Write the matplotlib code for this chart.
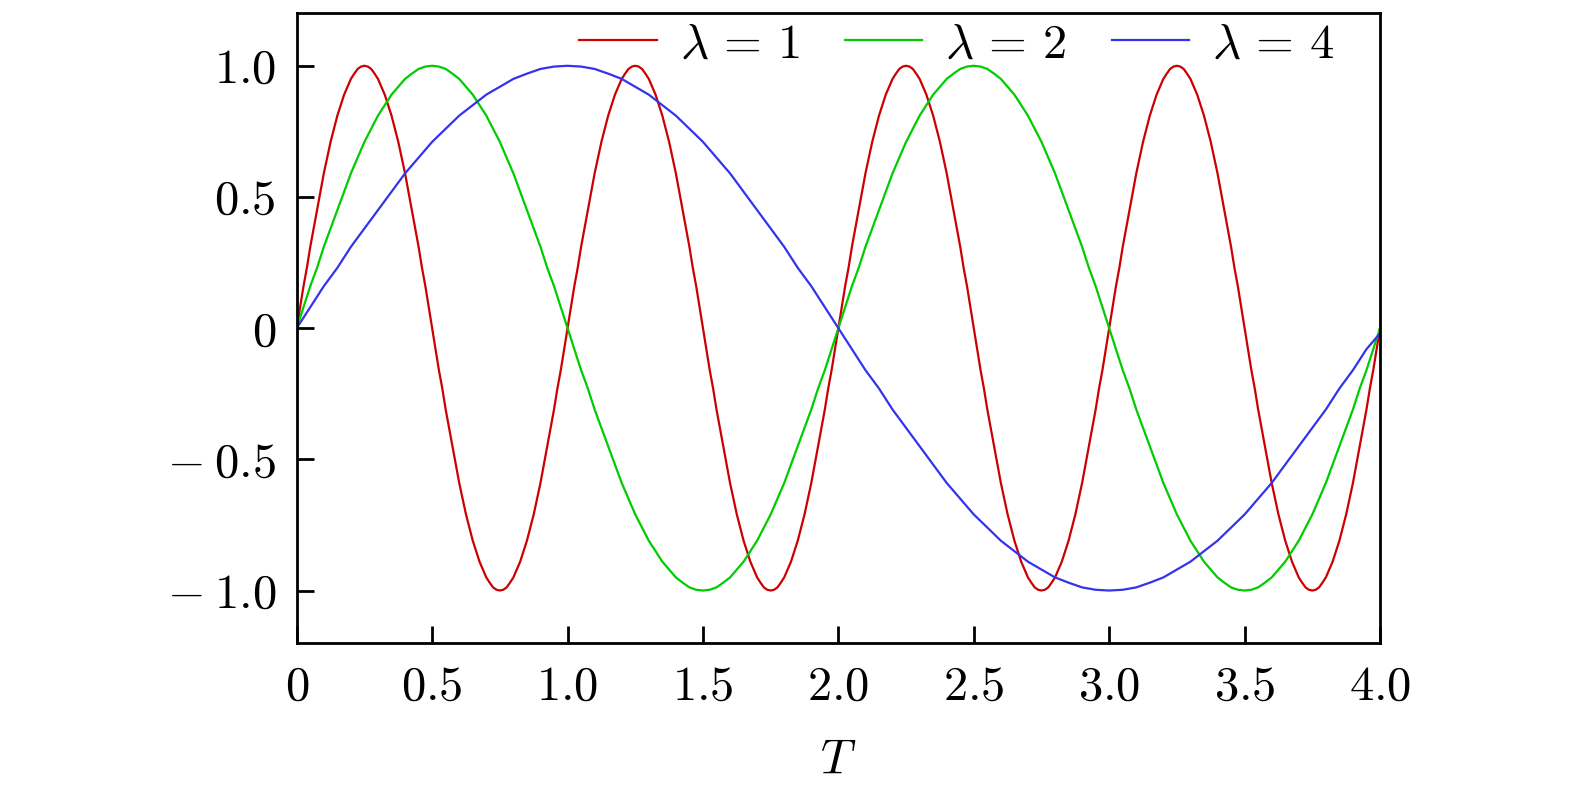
import numpy as np
import matplotlib
matplotlib.use("Agg")
import matplotlib.pyplot as plt

plt.rcParams['mathtext.fontset'] = 'cm'
plt.rcParams['font.family'] = 'serif'
plt.rcParams['font.serif'] = ['cmr10', 'DejaVu Serif']

lam1 = [
    0.00, 0.08, 0.16, 0.23, 0.31, 0.38, 0.45, 0.52, 0.59, 0.65, 0.71, 0.76, 0.81, 0.85, 0.89, 0.92, 0.95, 0.97, 0.988, 0.997, 1.00, 0.997, 0.988, 0.97, 0.95, 0.92, 0.89, 0.85, 0.81, 0.76, 0.71, 0.65, 0.59, 0.52, 0.45, 0.38, 0.31, 0.23, 0.16, 0.08,
    0.00, -0.08, -0.16, -0.23, -0.31, -0.38, -0.45, -0.52, -0.59, -0.65, -0.71, -0.76, -0.81, -0.85, -0.89, -0.92, -0.95, -0.97, -0.988, -0.997, -1.00, -0.997, -0.988, -0.97, -0.95, -0.92, -0.89, -0.85, -0.81, -0.76, -0.71, -0.65, -0.59, -0.52, -0.45, -0.38, -0.31, -0.23, -0.16, -0.08,
    0.00, 0.08, 0.16, 0.23, 0.31, 0.38, 0.45, 0.52, 0.59, 0.65, 0.71, 0.76, 0.81, 0.85, 0.89, 0.92, 0.95, 0.97, 0.988, 0.997, 1.00, 0.997, 0.988, 0.97, 0.95, 0.92, 0.89, 0.85, 0.81, 0.76, 0.71, 0.65, 0.59, 0.52, 0.45, 0.38, 0.31, 0.23, 0.16, 0.08,
    0.00, -0.08, -0.16, -0.23, -0.31, -0.38, -0.45, -0.52, -0.59, -0.65, -0.71, -0.76, -0.81, -0.85, -0.89, -0.92, -0.95, -0.97, -0.988, -0.997, -1.00, -0.997, -0.988, -0.97, -0.95, -0.92, -0.89, -0.85, -0.81, -0.76, -0.71, -0.65, -0.59, -0.52, -0.45, -0.38, -0.31, -0.23, -0.16, -0.08,
    0.00, 0.08, 0.16, 0.23, 0.31, 0.38, 0.45, 0.52, 0.59, 0.65, 0.71, 0.76, 0.81, 0.85, 0.89, 0.92, 0.95, 0.97, 0.988, 0.997, 1.00, 0.997, 0.988, 0.97, 0.95, 0.92, 0.89, 0.85, 0.81, 0.76, 0.71, 0.65, 0.59, 0.52, 0.45, 0.38, 0.31, 0.23, 0.16, 0.08,
    0.00, -0.08, -0.16, -0.23, -0.31, -0.38, -0.45, -0.52, -0.59, -0.65, -0.71, -0.76, -0.81, -0.85, -0.89, -0.92, -0.95, -0.97, -0.988, -0.997, -1.00, -0.997, -0.988, -0.97, -0.95, -0.92, -0.89, -0.85, -0.81, -0.76, -0.71, -0.65, -0.59, -0.52, -0.45, -0.38, -0.31, -0.23, -0.16, -0.08,
    0.00, 0.08, 0.16, 0.23, 0.31, 0.38, 0.45, 0.52, 0.59, 0.65, 0.71, 0.76, 0.81, 0.85, 0.89, 0.92, 0.95, 0.97, 0.988, 0.997, 1.00, 0.997, 0.988, 0.97, 0.95, 0.92, 0.89, 0.85, 0.81, 0.76, 0.71, 0.65, 0.59, 0.52, 0.45, 0.38, 0.31, 0.23, 0.16, 0.08,
    0.00, -0.08, -0.16, -0.23, -0.31, -0.38, -0.45, -0.52, -0.59, -0.65, -0.71, -0.76, -0.81, -0.85, -0.89, -0.92, -0.95, -0.97, -0.988, -0.997, -1.00, -0.997, -0.988, -0.97, -0.95, -0.92, -0.89, -0.85, -0.81, -0.76, -0.71, -0.65, -0.59, -0.52, -0.45, -0.38, -0.31, -0.23, -0.16, -0.08,
    0.00,
]
lam2 = [
    0.00, 0.08, 0.16, 0.23, 0.31, 0.38, 0.45, 0.52, 0.59, 0.65, 0.71, 0.76, 0.81, 0.85, 0.89, 0.92, 0.95, 0.97, 0.988, 0.997, 1.00, 0.997, 0.988, 0.97, 0.95, 0.92, 0.89, 0.85, 0.81, 0.76, 0.71, 0.65, 0.59, 0.52, 0.45, 0.38, 0.31, 0.23, 0.16, 0.08,
    0.00, -0.08, -0.16, -0.23, -0.31, -0.38, -0.45, -0.52, -0.59, -0.65, -0.71, -0.76, -0.81, -0.85, -0.89, -0.92, -0.95, -0.97, -0.988, -0.997, -1.00, -0.997, -0.988, -0.97, -0.95, -0.92, -0.89, -0.85, -0.81, -0.76, -0.71, -0.65, -0.59, -0.52, -0.45, -0.38, -0.31, -0.23, -0.16, -0.08,
    0.00, 0.08, 0.16, 0.23, 0.31, 0.38, 0.45, 0.52, 0.59, 0.65, 0.71, 0.76, 0.81, 0.85, 0.89, 0.92, 0.95, 0.97, 0.988, 0.997, 1.00, 0.997, 0.988, 0.97, 0.95, 0.92, 0.89, 0.85, 0.81, 0.76, 0.71, 0.65, 0.59, 0.52, 0.45, 0.38, 0.31, 0.23, 0.16, 0.08,
    0.00, -0.08, -0.16, -0.23, -0.31, -0.38, -0.45, -0.52, -0.59, -0.65, -0.71, -0.76, -0.81, -0.85, -0.89, -0.92, -0.95, -0.97, -0.988, -0.997, -1.00, -0.997, -0.988, -0.97, -0.95, -0.92, -0.89, -0.85, -0.81, -0.76, -0.71, -0.65, -0.59, -0.52, -0.45, -0.38, -0.31, -0.23, -0.16, -0.08,
    0.00,
]
lam4 = [
    0.00, 0.08, 0.16, 0.23, 0.31, 0.38, 0.45, 0.52, 0.59, 0.65, 0.71, 0.76, 0.81, 0.85, 0.89, 0.92, 0.95, 0.97, 0.988, 0.997, 1.00, 0.997, 0.988, 0.97, 0.95, 0.92, 0.89, 0.85, 0.81, 0.76, 0.71, 0.65, 0.59, 0.52, 0.45, 0.38, 0.31, 0.23, 0.16, 0.08,
    0.00, -0.08, -0.16, -0.23, -0.31, -0.38, -0.45, -0.52, -0.59, -0.65, -0.71, -0.76, -0.81, -0.85, -0.89, -0.92, -0.95, -0.97, -0.988, -0.997, -1.00, -0.997, -0.988, -0.97, -0.95, -0.92, -0.89, -0.85, -0.81, -0.76, -0.71, -0.65, -0.59, -0.52, -0.45, -0.38, -0.31, -0.23, -0.16, -0.08,
    -0.02,
]
series_labels = [r'$\lambda\,=\,1$', r'$\lambda\,=\,2$', r'$\lambda\,=\,4$']
series_colors = ['#cc0000', '#00cc00', '#3333ee']

x_ticks = [0, 0.5, 1.0, 1.5, 2.0, 2.5, 3.0, 3.5, 4.0]
x_tick_labels = ['0', '0.5', '1.0', '1.5', '2.0', '2.5', '3.0', '3.5', '4.0']
y_ticks = [-1.0, -0.5, 0, 0.5, 1.0]
y_tick_labels = [r'$-\:1.0$', r'$-\:0.5$', '$0$', '$0.5$', '$1.0$']

fig = plt.figure(figsize=(15.75, 7.97), dpi=100)
ax = fig.add_axes([0.1884, 0.1932, 0.6878, 0.7901])

for vals, lab, col in zip([lam1, lam2, lam4], series_labels, series_colors):
    t = np.linspace(0, 4, len(vals))
    ax.plot(t, vals, color=col, lw=1.6, label=lab)

ax.set_xlim(0, 4)
ax.set_ylim(-1.2, 1.2)
ax.set_xticks(x_ticks)
ax.set_xticklabels(['$' + s + '$' for s in x_tick_labels])
ax.set_yticks(y_ticks)
ax.set_yticklabels(y_tick_labels)
ax.tick_params(direction='in', length=12, width=2, labelsize=35,
               top=False, right=False)
ax.tick_params(axis='x', pad=16)
ax.tick_params(axis='y', pad=15)
for sp in ax.spines.values():
    sp.set_linewidth(2)
ax.set_xlabel('$T$', fontsize=35, labelpad=21)

ax.legend(loc='upper right', ncol=3, frameon=False, fontsize=35,
          handlelength=1.6, handletextpad=0.47, columnspacing=0.93,
          borderaxespad=0.0, borderpad=0.2, bbox_to_anchor=(0.967, 1.0))

fig.savefig('out.png', dpi=100)
